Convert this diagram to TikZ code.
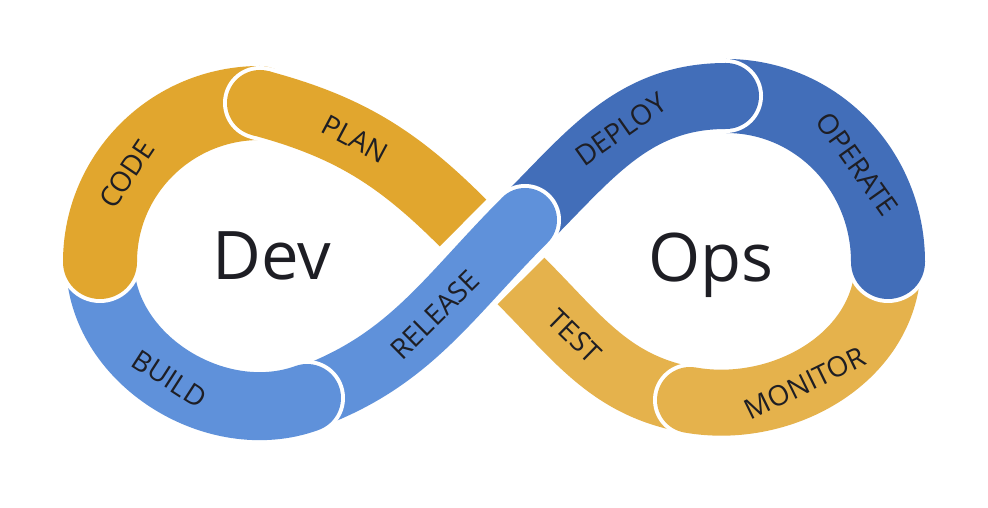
\documentclass[tikz,border=0pt]{standalone}
\usepackage{fontspec}
\setmainfont{Open Sans}
\usepackage{xcolor}

\definecolor{codegold}{RGB}{225,166,46}
\definecolor{testgold}{RGB}{229,178,76}
\definecolor{buildblue}{RGB}{95,145,218}
\definecolor{deployblue}{RGB}{66,110,185}
\definecolor{inkgray}{RGB}{30,30,36}

\begin{document}
\begin{tikzpicture}[x=1pt,y=1pt,
    seg/.style 2 args={draw=white,line width=4pt,double=#1,double distance=#2,line cap=round},
    lbl/.style={sloped,text=inkgray,font=\fontsize{28}{28}\selectfont},
    big/.style={text=inkgray,font=\fontsize{67}{67}\selectfont,anchor=base}]
    \useasboundingbox (0,0) rectangle (988,508);

    \coordinate (codeS) at (100,246);
    \coordinate (planS) at (260,405);
    \coordinate (planE) at (463,285);
    \coordinate (testS) at (521,227);
    \coordinate (monS) at (690,108);
    \coordinate (opS) at (888,246);
    \coordinate (depS) at (726,412);
    \coordinate (relS) at (525,288);
    \coordinate (buildS) at (307,110);

    % right lobe
    \draw[seg={testgold}{66pt},line cap=butt] (testS) to[out=-45,in=170] node[lbl,pos=.35] {TEST} (monS);
    \draw[seg={testgold}{66pt}] (monS) to[out=-10,in=-90] node[lbl,pos=.42] {MONITOR} (opS);
    \draw[seg={deployblue}{74pt}] (opS) to[out=90,in=0] node[lbl,pos=.4] {OPERATE} (depS);
    \draw[seg={deployblue}{66pt}] (depS) to[out=180,in=45] node[lbl,pos=.47] {DEPLOY} (relS);

    % left lobe
    \draw[seg={buildblue}{64pt}] (relS) to[out=225,in=20] node[lbl,pos=.45] {RELEASE} (buildS);
    \draw[seg={buildblue}{68pt}] (buildS) to[out=200,in=-90] node[lbl,pos=.5] {BUILD} (codeS);
    \draw[seg={codegold}{74pt}] (codeS) to[out=90,in=180] node[lbl,pos=.37] {CODE} (planS);
    \fill[white] (planS) circle (37pt);
    \draw[seg={codegold}{66pt},line cap=butt] (planS) to[out=-15,in=135] node[lbl,pos=.42] {PLAN} (planE);
    \fill[codegold] (planS) circle (33pt);

    \node[big] (dev) at (272,228) {Dev};
    \node[big] (ops) at (711,226) {Ops};
\end{tikzpicture}
\end{document}
